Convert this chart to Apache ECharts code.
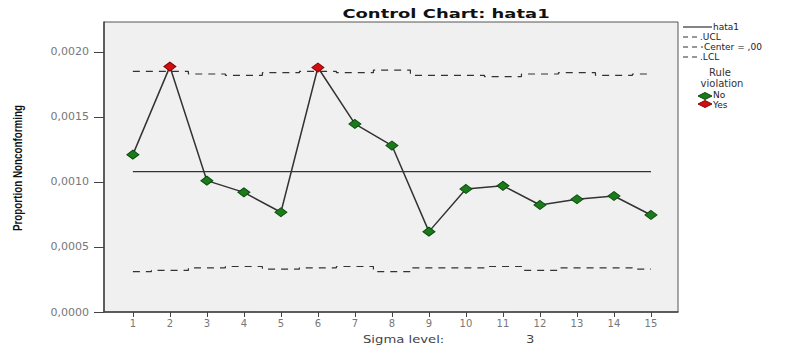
<!DOCTYPE html>
<html><head><meta charset="utf-8">
<script src="https://cdn.jsdelivr.net/npm/echarts@6/dist/echarts.min.js"></script>
<style>html,body{margin:0;padding:0;background:#fff}#c{width:798px;height:349px}</style>
</head><body><div id="c"></div>
<script>
const categories = [1,2,3,4,5,6,7,8,9,10,11,12,13,14,15];
const values = [0.00121,0.001887,0.00101,0.00092,0.000767,0.00188,0.001446,0.00128,0.000618,0.000946,0.00097,0.000823,0.000867,0.000892,0.000746];
const violation = ['No','Yes','No','No','No','Yes','No','No','No','No','No','No','No','No','No'];
const ucl = [0.00185,0.00185,0.00183,0.00182,0.00184,0.00185,0.00184,0.00186,0.00182,0.00182,0.00181,0.00183,0.00184,0.00182,0.00183];
const lcl = [0.00031,0.00032,0.00034,0.00035,0.00033,0.00034,0.00035,0.00031,0.00034,0.00034,0.00035,0.00032,0.00034,0.00034,0.00033];
const center = 0.00108;
const yTicks = [0,0.0005,0.001,0.0015,0.002];
const title = 'Control Chart: hata1';
const yName = 'Proportion Nonconforming';
const sigmaLabel = 'Sigma level:';
const sigmaValue = '3';

const GREEN = '#1b7a1b', RED = '#d01010';
const chart = echarts.init(document.getElementById('c'), null, {renderer:'svg'});
const pts = categories.map((c,i)=>({value:[c,values[i]], itemStyle:{color: violation[i]==='Yes'?RED:GREEN, borderColor: violation[i]==='Yes'?'#8a0000':'#0b4d0b'}}));
const fmt = v => v.toFixed(4).replace('.', ',');
const legText = {fontFamily:'DejaVu Sans', fontSize:9, fill:'#222'};
chart.setOption({
  backgroundColor:'#fff',
  animation:false,
  grid:{left:104, top:22, right:120, bottom:37, show:true, backgroundColor:'#f0f0f0', borderColor:'#555', borderWidth:1},
  xAxis:{type:'value', min:0.22, max:15.73,
    axisLine:{show:true, onZero:false, lineStyle:{color:'#444', width:1.5}},
    axisTick:{show:true, length:5, customValues:categories, lineStyle:{color:'#444'}},
    axisLabel:{customValues:categories, color:'#777', fontFamily:'DejaVu Sans', fontSize:10, margin:6},
    splitLine:{show:false}},
  yAxis:{type:'value', min:0, max:0.00223,
    axisLine:{show:true, lineStyle:{color:'#444', width:1.5}},
    axisTick:{show:true, length:10, customValues:yTicks, lineStyle:{color:'#444'}},
    axisLabel:{customValues:yTicks, formatter:fmt, color:'#777', fontFamily:'DejaVu Sans', fontSize:11, margin:15},
    splitLine:{show:false}},
  series:[
    {type:'line', step:'middle', data:categories.map((c,i)=>[c,ucl[i]]), symbol:'none', lineStyle:{color:'#333', width:1.2, type:[7,6]}, z:2},
    {type:'line', step:'middle', data:categories.map((c,i)=>[c,lcl[i]]), symbol:'none', lineStyle:{color:'#333', width:1.2, type:[7,6]}, z:2},
    {type:'line', data:[[categories[0],center],[categories[categories.length-1],center]], symbol:'none', lineStyle:{color:'#333', width:1.2}, z:2},
    {type:'line', data:pts, symbol:'diamond', symbolSize:[12,9], lineStyle:{color:'#333', width:1.5}, itemStyle:{borderWidth:1}, z:3}
  ],
  graphic:[
    {type:'text', x:446, y:13, scaleX:1.38, style:{text:title, fontFamily:'DejaVu Sans', fontWeight:'bold', fontSize:13, fill:'#111', align:'center', verticalAlign:'middle'}},
    {type:'text', x:18, y:168, rotation:Math.PI/2, scaleX:0.82, style:{text:yName, fontFamily:'Liberation Sans', fontWeight:'bold', fontSize:12, fill:'#111', align:'center', verticalAlign:'middle'}},
    {type:'text', x:363, y:339, scaleX:1.2, style:{text:sigmaLabel, fontFamily:'DejaVu Sans', fontSize:11, fill:'#444', verticalAlign:'middle'}},
    {type:'text', x:526, y:339, scaleX:1.2, style:{text:sigmaValue, fontFamily:'DejaVu Sans', fontSize:11, fill:'#444', verticalAlign:'middle'}},
    {type:'line', shape:{x1:683,y1:27,x2:712,y2:27}, style:{stroke:'#333', lineWidth:1.2}},
    {type:'text', x:713, y:27, style:Object.assign({text:'hata1', verticalAlign:'middle'}, legText)},
    {type:'line', shape:{x1:683,y1:37,x2:699,y2:37}, style:{stroke:'#333', lineWidth:1.2, lineDash:[5,4]}},
    {type:'text', x:700, y:37, style:Object.assign({text:'.UCL', verticalAlign:'middle'}, legText)},
    {type:'line', shape:{x1:683,y1:47,x2:703,y2:47}, style:{stroke:'#333', lineWidth:1.2, lineDash:[5,4]}},
    {type:'text', x:704, y:47, style:Object.assign({text:'Center = ,00', verticalAlign:'middle'}, legText)},
    {type:'line', shape:{x1:683,y1:57,x2:699,y2:57}, style:{stroke:'#333', lineWidth:1.2, lineDash:[5,4]}},
    {type:'text', x:700, y:57, style:Object.assign({text:'.LCL', verticalAlign:'middle'}, legText)},
    {type:'text', x:720, y:72, style:{text:'Rule', fontFamily:'DejaVu Sans', fontSize:10, fill:'#333', align:'center', verticalAlign:'middle'}},
    {type:'text', x:722, y:83, style:{text:'violation', fontFamily:'DejaVu Sans', fontSize:10, fill:'#333', align:'center', verticalAlign:'middle'}},
    {type:'polygon', shape:{points:[[698,96],[705,92.5],[712,96],[705,99.5]]}, style:{fill:GREEN, stroke:'#0b4d0b'}},
    {type:'text', x:713, y:95, style:Object.assign({text:'No', verticalAlign:'middle'}, legText)},
    {type:'polygon', shape:{points:[[698,104],[705,100.5],[712,104],[705,107.5]]}, style:{fill:RED, stroke:'#8a0000'}},
    {type:'text', x:713, y:105, style:Object.assign({text:'Yes', verticalAlign:'middle'}, legText)}
  ]
});
</script></body></html>
